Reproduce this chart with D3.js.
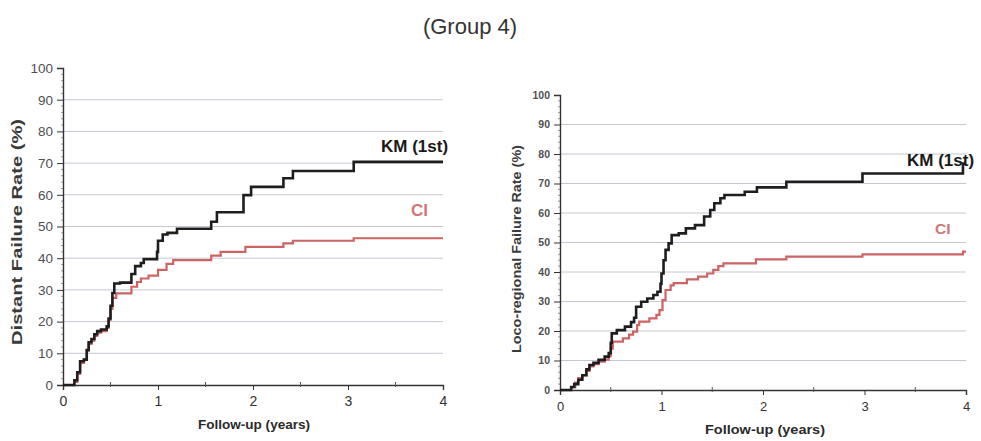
<!DOCTYPE html>
<html>
<head>
<meta charset="utf-8">
<script src="https://cdn.jsdelivr.net/npm/d3@7"></script>
<style>
  html, body { margin: 0; padding: 0; background: #ffffff; }
  svg { display: block; font-family: "Liberation Sans", Arial, sans-serif; }
</style>
</head>
<body>
<svg id="chart" width="981" height="441"></svg>
<script>
// Follow-up in years, failure rate in %
const yTicks = [0, 10, 20, 30, 40, 50, 60, 70, 80, 90, 100];
const xTicks = [0, 1, 2, 3, 4];

// Distant failure — Kaplan-Meier (1st event)
const distKmTime = [0, 0.12, 0.15, 0.18, 0.22, 0.25, 0.27, 0.30, 0.33, 0.36, 0.40, 0.46, 0.48, 0.50, 0.52, 0.54, 0.60, 0.72, 0.76, 0.82, 0.85, 0.99, 1.00, 1.05, 1.10, 1.20, 1.56, 1.62, 1.90, 1.98, 2.32, 2.42, 3.06, 4.0];
const distKmRate = [0, 1.5, 4, 7.5, 8, 11, 13.5, 14.5, 16, 17, 17.5, 18.5, 21, 25, 29, 32, 32.3, 35, 37.5, 38.5, 39.7, 42, 45.5, 47.5, 48, 49.3, 51.5, 54.5, 59.9, 62.5, 65.2, 67.5, 70.4, 70.4];

// Distant failure — cumulative incidence
const distCiTime = [0, 0.12, 0.15, 0.18, 0.22, 0.25, 0.27, 0.30, 0.33, 0.36, 0.40, 0.46, 0.48, 0.50, 0.52, 0.56, 0.72, 0.78, 0.82, 0.90, 1.00, 1.09, 1.16, 1.56, 1.66, 1.92, 2.32, 2.42, 3.06, 4.0];
const distCiRate = [0, 1, 3.5, 7, 8, 11, 13, 14, 15.5, 16.5, 17, 18, 20.5, 24, 27.5, 28.9, 31, 32.5, 33.6, 34.5, 36.3, 38.2, 39.4, 40.8, 42, 43.6, 44.7, 45.5, 46.3, 46.3];

// Loco-regional failure — Kaplan-Meier (1st event)
const locoKmTime = [0, 0.11, 0.14, 0.18, 0.22, 0.26, 0.29, 0.33, 0.38, 0.44, 0.48, 0.50, 0.51, 0.56, 0.64, 0.70, 0.73, 0.75, 0.80, 0.86, 0.92, 0.96, 0.99, 1.00, 1.02, 1.04, 1.07, 1.10, 1.17, 1.24, 1.33, 1.42, 1.48, 1.52, 1.58, 1.62, 1.82, 1.94, 2.23, 2.98, 3.97, 4.0];
const locoKmRate = [0, 1, 2, 3.5, 5, 7, 8.5, 9.2, 10.2, 11.3, 12.5, 16, 19.2, 20.3, 21.5, 23, 24.5, 28.2, 29.9, 31, 32.2, 33.3, 36, 39.5, 44, 47.5, 49.7, 52.5, 53.1, 54.8, 55.9, 58.8, 61, 63.3, 65, 66.1, 67.2, 68.7, 70.6, 73.4, 76.8, 76.8];

// Loco-regional failure — cumulative incidence
const locoCiTime = [0, 0.11, 0.15, 0.18, 0.22, 0.26, 0.29, 0.33, 0.38, 0.44, 0.48, 0.50, 0.52, 0.62, 0.68, 0.72, 0.76, 0.78, 0.88, 0.95, 0.98, 1.01, 1.04, 1.09, 1.12, 1.25, 1.36, 1.45, 1.51, 1.56, 1.61, 1.93, 2.23, 2.98, 3.97, 4.0];
const locoCiRate = [0, 1, 2.5, 4, 5, 6.5, 8, 8.8, 9.6, 10.3, 11.5, 14, 16.4, 17.5, 18.8, 19.8, 22, 23.2, 24.3, 25.5, 27.1, 30.5, 33.9, 35.5, 36.2, 37.5, 38.4, 39.5, 40.7, 42, 42.9, 44.3, 45.2, 46, 46.9, 46.9];

const seriesLabels = ["KM (1st)", "CI"];

const svg = d3.select("#chart");
const KM_COLOR = "#1e1e1e";
const CI_COLOR = "#cc6464";

svg.append("text")
  .attr("x", 470).attr("y", 34)
  .attr("text-anchor", "middle")
  .attr("font-size", 22)
  .attr("fill", "#333")
  .text("(Group 4)");

function drawPanel(p) {
  const x = d3.scaleLinear().domain([0, 4]).range([p.x0, p.x1]);
  const y = d3.scaleLinear().domain([0, 100]).range([p.y0, p.y1]);
  const g = svg.append("g");

  // horizontal gridlines (10..90)
  g.append("g").selectAll("line")
    .data(yTicks.filter(v => v > 0 && v < 100))
    .join("line")
    .attr("x1", p.x0).attr("x2", p.x1)
    .attr("y1", d => y(d)).attr("y2", d => y(d))
    .attr("stroke", "#c6c6d4").attr("stroke-width", 1);

  // y axis
  const yAxis = d3.axisLeft(y).tickValues(yTicks).tickFormat(d3.format("d")).tickSize(6).tickPadding(p.yPad);
  const ya = g.append("g").attr("transform", `translate(${p.x0},0)`).call(yAxis);
  ya.select(".domain").attr("stroke", "#333").attr("stroke-width", 1.4);
  ya.selectAll(".tick line").attr("stroke", "#333");
  ya.selectAll(".tick text")
    .attr("font-family", "Liberation Sans, Arial, sans-serif")
    .attr("font-size", p.yFont).attr("font-weight", p.yWeight).attr("fill", "#505050");

  // minor y ticks
  g.append("g").selectAll("line")
    .data(d3.range(0, 100, 2).filter(v => v % 10 !== 0))
    .join("line")
    .attr("x1", p.x0 - 2).attr("x2", p.x0)
    .attr("y1", d => y(d)).attr("y2", d => y(d))
    .attr("stroke", "#777").attr("stroke-width", 0.8);

  // x axis
  const xAxis = d3.axisBottom(x).tickValues(xTicks).tickFormat(d3.format("d")).tickSize(5).tickPadding(p.xPad);
  const xa = g.append("g").attr("transform", `translate(0,${p.y0})`).call(xAxis);
  xa.select(".domain").attr("stroke", "#333").attr("stroke-width", 1.4);
  xa.selectAll(".tick line").attr("stroke", "#333");
  xa.selectAll(".tick text")
    .attr("font-family", "Liberation Sans, Arial, sans-serif")
    .attr("font-size", p.xFont).attr("fill", "#333");

  // half-year minor ticks
  g.append("g").selectAll("line")
    .data([0.5, 1.5, 2.5, 3.5])
    .join("line")
    .attr("x1", d => x(d)).attr("x2", d => x(d))
    .attr("y1", p.y0 - 3).attr("y2", p.y0 + 2)
    .attr("stroke", "#555").attr("stroke-width", 1);

  const line = d3.line()
    .x(d => x(d[0])).y(d => y(d[1]))
    .curve(d3.curveStepAfter);

  g.append("path")
    .datum(p.ciTime.map((t, i) => [t, p.ciRate[i]]))
    .attr("d", line)
    .attr("fill", "none").attr("stroke", CI_COLOR).attr("stroke-width", 2.2);

  g.append("path")
    .datum(p.kmTime.map((t, i) => [t, p.kmRate[i]]))
    .attr("d", line)
    .attr("fill", "none").attr("stroke", KM_COLOR).attr("stroke-width", 2.6);

  // series labels
  g.append("text")
    .attr("x", p.kmLabel[0]).attr("y", p.kmLabel[1])
    .attr("font-size", 17).attr("font-weight", "bold").attr("fill", "#1a1a1a")
    .text(seriesLabels[0]);
  g.append("text")
    .attr("x", p.ciLabel[0]).attr("y", p.ciLabel[1])
    .attr("font-size", p.ciFont).attr("font-weight", "bold").attr("fill", "#d07878")
    .text(seriesLabels[1]);

  // axis titles
  g.append("text")
    .attr("transform", `translate(${p.yTitleX},${p.yTitleY}) rotate(-90)`)
    .attr("text-anchor", "middle")
    .attr("font-size", p.yTitleFont).attr("font-weight", "bold").attr("fill", "#3a3a3a")
    .attr("textLength", p.yTitleLen).attr("lengthAdjust", "spacingAndGlyphs")
    .text(p.yTitle);
  g.append("text")
    .attr("x", p.xTitleX).attr("y", p.xTitleY)
    .attr("text-anchor", "middle")
    .attr("font-size", p.xTitleFont).attr("font-weight", "bold").attr("fill", "#2a2a2a")
    .attr("textLength", p.xTitleLen).attr("lengthAdjust", "spacingAndGlyphs")
    .text("Follow-up (years)");
}

drawPanel({
  x0: 63, x1: 443, y0: 385, y1: 68,
  yFont: 13.5, yWeight: "normal", yPad: 4, xFont: 14, xPad: 6,
  kmTime: distKmTime, kmRate: distKmRate, ciTime: distCiTime, ciRate: distCiRate,
  kmLabel: [381, 152], ciLabel: [411, 216], ciFont: 17,
  yTitle: "Distant Failure Rate (%)", yTitleX: 22, yTitleY: 232, yTitleFont: 14.5, yTitleLen: 226,
  xTitleX: 254, xTitleY: 429, xTitleFont: 12, xTitleLen: 112
});

drawPanel({
  x0: 560, x1: 966, y0: 390, y1: 95,
  yFont: 10.5, yWeight: "bold", yPad: 4, xFont: 13, xPad: 7,
  kmTime: locoKmTime, kmRate: locoKmRate, ciTime: locoCiTime, ciRate: locoCiRate,
  kmLabel: [907, 166], ciLabel: [935, 234], ciFont: 15.5,
  yTitle: "Loco-regional Failure Rate (%)", yTitleX: 521, yTitleY: 249, yTitleFont: 12.5, yTitleLen: 208,
  xTitleX: 765, xTitleY: 434, xTitleFont: 12.5, xTitleLen: 120
});
</script>
</body>
</html>
